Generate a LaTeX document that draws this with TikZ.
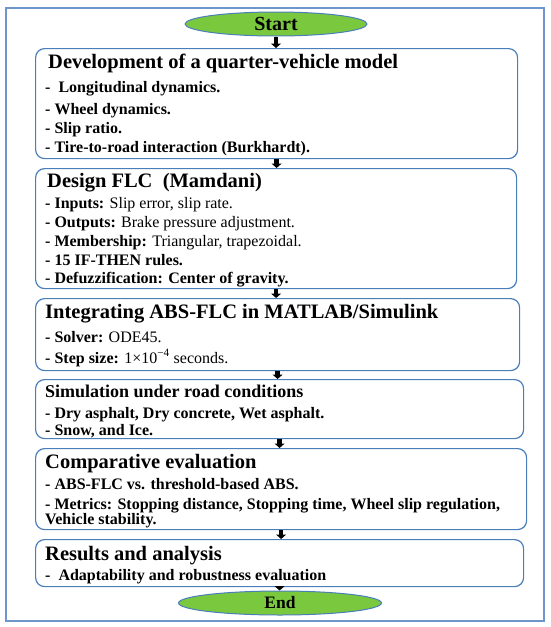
\documentclass[tikz,border=0pt]{standalone}
\usepackage{fontspec}
\setmainfont{Liberation Serif}
\usetikzlibrary{arrows.meta,shapes.geometric}
\definecolor{boxblue}{RGB}{74,126,187}
\definecolor{frameblue}{RGB}{110,150,205}
\definecolor{termgreen}{RGB}{122,200,62}
\tikzset{
  stage/.style={draw=boxblue, line width=1.2pt, rounded corners=9pt, anchor=north west, inner sep=0pt},
  term/.style={ellipse, draw=boxblue, line width=1pt, fill=termgreen, inner sep=0pt},
  ttl/.style={anchor=base west, inner sep=0pt, font=\fontsize{20.5}{20.5}\selectfont\bfseries},
  itm/.style={anchor=base west, inner sep=0pt, font=\fontsize{16}{16}\selectfont\bfseries},
  flowarrow/.style={line width=4.5pt, -{Triangle[width=10pt,length=4.5pt]}}
}
\begin{document}
\begin{tikzpicture}[x=1pt,y=-1pt]
\useasboundingbox (0,0) rectangle (550,627);
\draw[frameblue, line width=1.2pt] (6,8) rectangle (544,621);

\node[term, minimum width=182pt, minimum height=24pt, font=\fontsize{20}{20}\selectfont\bfseries] (start) at (276,24) {Start};
\node[term, minimum width=203pt, minimum height=24pt, font=\fontsize{17.5}{17.5}\selectfont\bfseries] (end) at (280,603) {End};

\node[stage, minimum width=482pt, minimum height=110pt] (b1) at (35,48) {};
\node[stage, minimum width=481pt, minimum height=120pt] (b2) at (35,168) {};
\node[stage, minimum width=484pt, minimum height=72pt] (b3) at (35,298) {};
\node[stage, minimum width=488pt, minimum height=59pt] (b4) at (35,379) {};
\node[stage, minimum width=491pt, minimum height=81pt] (b5) at (35,448) {};
\node[stage, minimum width=488pt, minimum height=47pt] (b6) at (35,539) {};

% box 1
\node[ttl] (t1) at (48,68) {Development of a quarter-vehicle model};
\node[itm] (t1a) at (45,92) {-\ \ Longitudinal dynamics.};
\node[itm] (t1b) at (45,114) {- Wheel dynamics.};
\node[itm] (t1c) at (45,133) {- Slip ratio.};
\node[itm] (t1d) at (45,152) {- Tire-to-road interaction (Burkhardt).};
% box 2
\node[ttl] (t2) at (47,187) {Design FLC\ \ (Mamdani)};
\node[itm] (t2a) at (45,208) {- Inputs: \mdseries Slip error, slip rate.};
\node[itm] (t2b) at (45,227) {- Outputs: \mdseries Brake pressure adjustment.};
\node[itm] (t2c) at (45,246) {- Membership: \mdseries Triangular, trapezoidal.};
\node[itm] (t2d) at (45,265) {- 15 IF-THEN rules.};
\node[itm] (t2e) at (45,283) {- Defuzzification: Center of gravity.};
% box 3
\node[ttl] (t3) at (45,318) {Integrating ABS-FLC in MATLAB/Simulink};
\node[itm] (t3a) at (45,342) {- Solver: \mdseries ODE45.};
\node[itm] (t3b) at (45,363) {- Step size: \mdseries 1×10\textsuperscript{−4} seconds.};
% box 4
\node[ttl, font=\fontsize{18}{18}\selectfont\bfseries] (t4) at (45,397) {Simulation under road conditions};
\node[itm] (t4a) at (45,418) {- Dry asphalt, Dry concrete, Wet asphalt.};
\node[itm] (t4b) at (45,435) {- Snow, and Ice.};
% box 5
\node[ttl] (t5) at (45,468) {Comparative evaluation};
\node[itm] (t5a) at (45,489) {- ABS-FLC vs. threshold-based ABS.};
\node[itm] (t5b) at (45,509) {- Metrics: Stopping distance, Stopping time, Wheel slip regulation,};
\node[itm] (t5c) at (45,524.5) {Vehicle stability.};
% box 6
\node[ttl] (t6) at (45,560) {Results and analysis};
\node[itm] (t6a) at (45,580) {-\ \ Adaptability and robustness evaluation};

% arrows
\draw[flowarrow] (start.south) -- (start.south |- b1.north);
\draw[flowarrow] (b1.south) -- (b1.south |- b2.north);
\draw[flowarrow] (b2.south) -- (b2.south |- b3.north);
\draw[flowarrow] (b3.south) -- (b3.south |- b4.north);
\draw[flowarrow] (b4.south) -- (b4.south |- b5.north);
\draw[flowarrow] (b5.south) -- (b5.south |- b6.north);
\draw[flowarrow] (b6.south) -- (b6.south |- end.north);
\end{tikzpicture}
\end{document}
